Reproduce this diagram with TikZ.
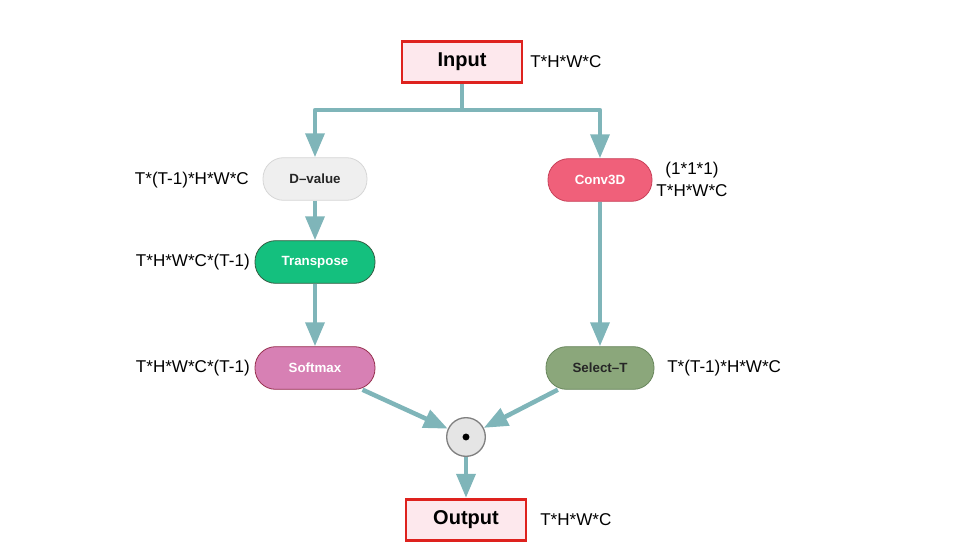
\documentclass[tikz,border=0pt]{standalone}
\usepackage{fontspec}
\setmainfont{Liberation Sans}
\usetikzlibrary{arrows.meta,positioning}

\definecolor{flowc}{RGB}{127,181,185}
\definecolor{iored}{RGB}{222,34,30}
\definecolor{iofill}{RGB}{253,232,237}
\definecolor{dvfill}{RGB}{239,239,239}
\definecolor{dvline}{RGB}{214,214,214}
\definecolor{trfill}{RGB}{20,192,126}
\definecolor{trline}{RGB}{52,92,66}
\definecolor{smfill}{RGB}{215,128,180}
\definecolor{smline}{RGB}{150,48,78}
\definecolor{cvfill}{RGB}{240,96,122}
\definecolor{cvline}{RGB}{200,64,88}
\definecolor{stfill}{RGB}{139,167,123}
\definecolor{stline}{RGB}{104,134,92}
\definecolor{dotfill}{RGB}{229,229,229}
\definecolor{dotline}{RGB}{128,128,128}

\begin{document}
\begin{tikzpicture}[x=0.75pt,y=0.75pt,yscale=-1,xscale=1,
	iobox/.style={draw=iored, line width=2.2pt, fill=iofill, minimum width=90pt, minimum height=31pt, font=\bfseries\fontsize{15}{18}\selectfont},
	opbox/.style={rounded corners=15.5pt, line width=0.6pt, minimum width=78pt, minimum height=32pt, font=\bfseries\fontsize{10}{12}\selectfont},
	dimlbl/.style={inner sep=0pt, font=\fontsize{12.8}{16.5}\selectfont},
	flow/.style={draw=flowc, line width=3.4pt, line join=round, -{Triangle[length=18pt,width=14pt]}}
	]
	\useasboundingbox (0,0) rectangle (954,554);
	
	% boxes
	\node [iobox] (in) at (462,62) {Input};
	\node [opbox, fill=dvfill, draw=dvline, text=black!85] (dval) at (315,179) {D–value};
	\node [opbox, fill=trfill, draw=trline, text=white, minimum width=90pt] (trans) at (315,262) {Transpose};
	\node [opbox, fill=smfill, draw=smline, text=white, minimum width=90pt] (soft) at (315,368) {Softmax};
	\node [opbox, fill=cvfill, draw=cvline, text=white] (conv) at (600,180) {Conv3D};
	\node [opbox, fill=stfill, draw=stline, text=black!85, minimum width=81pt] (sel) at (600,368) {Select–T};
	\node [circle, draw=dotline, line width=1pt, fill=dotfill, minimum size=29pt] (dot) at (466,437) {};
	\fill (dot) circle (2.6pt);
	\node [iobox] (out) at (466,520) {Output};
	
	% sizes
	\node [dimlbl, anchor=west] (inlbl) at (530,62) {T*H*W*C};
	\node [dimlbl, anchor=east] (dvlbl) at (249,180) {T*(T-1)*H*W*C};
	\node [dimlbl, anchor=east] (trlbl) at (250,262) {T*H*W*C*(T-1)};
	\node [dimlbl, anchor=east] (smlbl) at (250,368) {T*H*W*C*(T-1)};
	\node [dimlbl, align=center] (cvlbl) at (692,179) {(1*1*1)\\T*H*W*C};
	\node [dimlbl, anchor=west] (stlbl) at (667,368) {T*(T-1)*H*W*C};
	\node [dimlbl, anchor=west] (outlbl) at (540,520) {T*H*W*C};
	
	% connectors
	\coordinate (split) at (462,110);
	\draw [flow, -] (in) -- (split);
	\draw [flow] (split) -| (dval);
	\draw [flow] (split) -| (conv);
	\draw [flow] (dval) -- (trans);
	\draw [flow] (trans) -- (soft);
	\draw [flow] (conv) -- (sel);
	\draw [flow] (soft) -- (dot);
	\draw [flow] (sel) -- (dot);
	\draw [flow] (dot) -- (out);
	
\end{tikzpicture}
\end{document}
